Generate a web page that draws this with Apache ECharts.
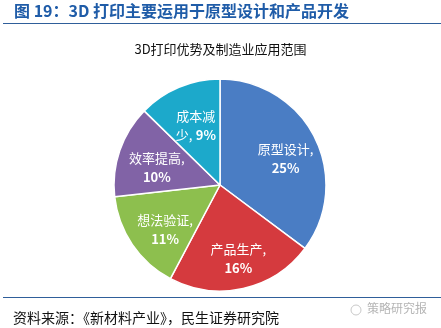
<!DOCTYPE html>
<html>
<head>
<meta charset="utf-8">
<script src="https://cdn.jsdelivr.net/npm/echarts@6/dist/echarts.min.js"></script>
<style>
  html, body { margin: 0; padding: 0; background: #fff; }
  #container { width: 441px; height: 328px; }
</style>
</head>
<body>
<div id="container"></div>
<script>
// 数据
let categories = ['原型设计', '产品生产', '想法验证', '效率提高', '成本减少'];
let values = [25, 16, 11, 10, 9];
// 标签文字（成本减少换行方式与原图一致）
let labelNames = ['原型设计,', '产品生产,', '想法验证,', '效率提高,', '成本减\n少,'];
let colors = ['#4A7DC4', '#D53A3E', '#8DBF4E', '#8163A6', '#1CA9CB'];

let figTitle = '图 19：3D 打印主要运用于原型设计和产品开发';
let chartTitle = '3D打印优势及制造业应用范围';
let sourceText = '资料来源：《新材料产业》，民生证券研究院';
let markText = '策略研究报';

let dom = document.getElementById('container');
let myChart = echarts.init(dom);

let pieCenter = [220, 185];

let chartsData = [];
categories.forEach(function (name, i) {
    chartsData.push({
        name: name,
        value: values[i],
        itemStyle: { color: colors[i] },
        label: {
            formatter: i === 4
                ? '{n|' + labelNames[i].split('\n')[0] + '}\n{n|' + labelNames[i].split('\n')[1] + '} {v|' + values[i] + '%}'
                : '{n|' + labelNames[i] + '}\n{v|' + values[i] + '%}'
        }
    });
});

let option = {
    animation: false,
    title: {
        text: chartTitle,
        left: 'center',
        top: 38,
        textStyle: {
            fontFamily: 'Noto Sans CJK SC',
            fontSize: 13,
            fontWeight: 'normal',
            color: '#111'
        }
    },
    graphic: [{
        type: 'text',
        left: 14,
        top: 3,
        style: {
            text: figTitle,
            font: 'bold 16px "Noto Sans CJK SC"',
            fill: '#1F5CA8'
        }
    }, {
        type: 'line',
        shape: { x1: 3, y1: 23.5, x2: 441, y2: 23.5 },
        style: { stroke: '#2F5E9A', lineWidth: 1.2 }
    }, {
        type: 'line',
        shape: { x1: 3, y1: 297.5, x2: 441, y2: 297.5 },
        style: { stroke: '#2F5E9A', lineWidth: 1.2 }
    }, {
        type: 'text',
        left: 13,
        top: 311,
        style: {
            text: sourceText,
            font: '14px "Noto Sans CJK SC"',
            fill: '#111'
        }
    }, {
        type: 'text',
        left: 367,
        top: 302,
        style: {
            text: markText,
            font: '12px "Noto Sans CJK SC"',
            fill: '#B5B5B5'
        }
    }, {
        type: 'circle',
        shape: { cx: 356, cy: 310, r: 5 },
        style: { fill: 'none', stroke: '#C8C8C8', lineWidth: 1 }
    }],
    series: [{
        name: '应用范围',
        type: 'pie',
        center: pieCenter,
        radius: [0, 106],
        startAngle: 90,
        clockwise: true,
        itemStyle: {
            borderColor: '#fff',
            borderWidth: 1.5
        },
        label: {
            show: true,
            position: 'inside',
            color: '#fff',
            lineHeight: 18,
            rich: {
                n: {
                    fontFamily: 'Noto Sans CJK SC',
                    fontSize: 13,
                    color: '#fff',
                    lineHeight: 19
                },
                v: {
                    fontFamily: 'Noto Sans CJK SC',
                    fontSize: 13,
                    fontWeight: 'bold',
                    color: '#fff',
                    lineHeight: 19
                }
            }
        },
        labelLine: { show: false },
        // 标签往外推一点，贴近原图位置
        labelLayout: function (params) {
            let r = params.labelRect;
            let cx = r.x + r.width / 2;
            let cy = r.y + r.height / 2;
            let k = 1.25;
            return {
                x: pieCenter[0] + (cx - pieCenter[0]) * k + 3,
                y: pieCenter[1] + (cy - pieCenter[1]) * k + 5,
                align: 'center',
                verticalAlign: 'middle'
            };
        },
        data: chartsData
    }]
};

myChart.setOption(option, true);
</script>
</body>
</html>
